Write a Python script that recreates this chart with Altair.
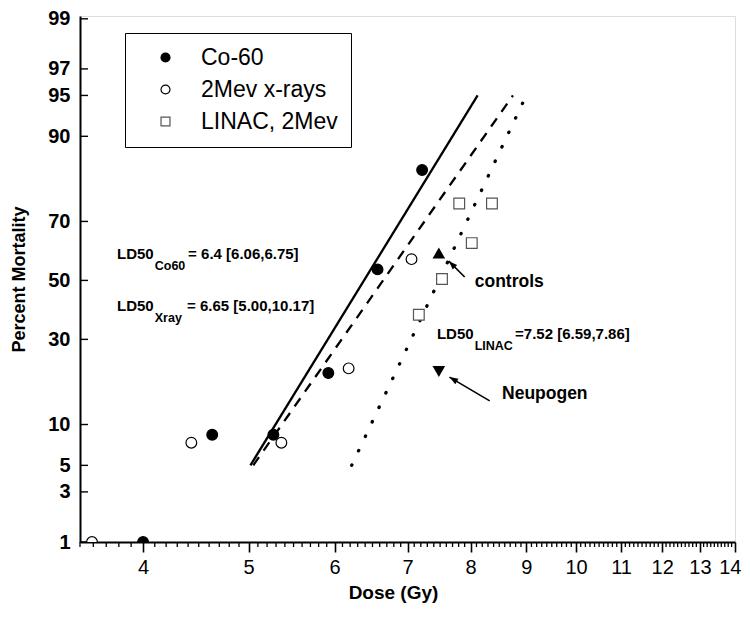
import altair as alt
import pandas as pd
from statistics import NormalDist

_nd = NormalDist()


def probit(p):
    return _nd.inv_cdf(p / 100.0)


# ---------------- data ----------------
series_names = ["Co-60", "2Mev x-rays", "LINAC, 2Mev"]

co60_dose = [4.0, 4.63, 5.27, 5.92, 6.57, 7.22]
co60_pct = [1, 8.5, 8.5, 20.5, 53.9, 83.7]

xray_dose = [3.59, 4.43, 5.36, 6.18, 7.06]
xray_pct = [1, 7.45, 7.45, 21.7, 57.5]

linac_dose = [7.17, 7.53, 7.81, 8.02, 8.37]
linac_pct = [38.0, 50.5, 75.3, 63.0, 75.3]

special_names = ["controls", "Neupogen"]
special_dose = [7.48, 7.48]
special_pct = [59.6, 20.9]
special_shape = ["triangle-up", "triangle-down"]

fit_pct = [5, 95]
fit_co60 = [5.02, 8.12]
fit_xray = [5.05, 8.75]
fit_linac = [6.22, 9.0]

y_tick_pct = [1, 3, 5, 10, 30, 50, 70, 90, 95, 97, 99]
x_major = [4, 5, 6, 7, 8, 9, 10, 11, 12, 13, 14]
x_minor = [round(3.5 + 0.1 * i, 1) for i in range(106)]

# annotation texts (anchor positions in data units)
ld_main = ["LD50", "LD50", "LD50"]
ld_sub = ["Co60", "Xray", "LINAC"]
ld_rest = ["= 6.4 [6.06,6.75]", "= 6.65 [5.00,10.17]", "=7.52 [6.59,7.86]"]
ld_dose = [3.785, 3.785, 7.45]
ld_pct = [57.5, 39.4, 30.0]
ld_sub_dose = [4.10, 4.10, 8.07]
ld_rest_dose = [4.40, 4.39, 8.79]

call_text = ["controls", "Neupogen"]
call_dose = [8.07, 8.55]
call_pct = [47.7, 14.6]

arrow_tail_dose = [7.90, 8.33]
arrow_tail_pct = [51.2, 14.2]
arrow_head_dose = [7.64, 7.65]
arrow_head_pct = [56.8, 19.5]
arrow_angle = [315, 301]

# ---------------- tables ----------------
points = pd.DataFrame({
    "series": [series_names[0]] * len(co60_dose) + [series_names[1]] * len(xray_dose)
    + [series_names[2]] * len(linac_dose),
    "dose": co60_dose + xray_dose + linac_dose,
    "pct": co60_pct + xray_pct + linac_pct,
})
points["z"] = points["pct"].map(probit)

special = pd.DataFrame({"name": special_names, "dose": special_dose, "pct": special_pct,
                        "shape": special_shape})
special["z"] = special["pct"].map(probit)


def fit_df(doses):
    d = pd.DataFrame({"dose": doses, "pct": fit_pct})
    d["z"] = d["pct"].map(probit)
    return d


ticks_y = pd.DataFrame({"pct": y_tick_pct})
ticks_y["z"] = ticks_y["pct"].map(probit)

ticks_x = pd.DataFrame({"dose": [v for v in x_minor if v not in x_major]})

ann = pd.DataFrame({"main": ld_main, "sub": ld_sub, "rest": ld_rest, "dose": ld_dose,
                    "pct": ld_pct, "sub_dose": ld_sub_dose, "rest_dose": ld_rest_dose})
ann["z"] = ann["pct"].map(probit)

calls = pd.DataFrame({"label": call_text, "dose": call_dose, "pct": call_pct})
calls["z"] = calls["pct"].map(probit)

arrows = pd.DataFrame({"dose": arrow_tail_dose, "dose2": arrow_head_dose,
                       "z": [probit(p) for p in arrow_tail_pct],
                       "z2": [probit(p) for p in arrow_head_pct],
                       "angle": arrow_angle})

FONT = "Liberation Sans"
W, H = 655, 526

x_scale = alt.Scale(type="log", domain=[3.5, 14], nice=False)
y_scale = alt.Scale(domain=[probit(1), probit(99) + 0.025], nice=False, zero=False)

x_axis = alt.Axis(
    values=x_major,
    labelExpr="format(datum.value, 'd')",
    labelOverlap=False, labelFlush=True, labelFlushOffset=6,
    tickSize=10, tickWidth=1.6, tickColor="black",
    domainColor="black", domainWidth=2,
    labelFont=FONT, labelFontSize=20, labelColor="black", labelPadding=5,
    grid=False, title="Dose (Gy)", titleFont=FONT, titleFontSize=19,
    titleFontWeight="bold", titleColor="black", titlePadding=6, titleX=313,
)
y_axis = alt.Axis(
    values=[probit(p) for p in y_tick_pct],
    labelExpr="format(cumulativeNormal(datum.value) * 100, '.0f')",
    ticks=False, grid=False, domainColor="black", domainWidth=2,
    labelFont=FONT, labelFontSize=20, labelFontWeight="bold", labelColor="black",
    labelPadding=10, labelOverlap=False,
    title="Percent Mortality", titleFont=FONT, titleFontSize=18, titleFontWeight="bold",
    titleColor="black", titlePadding=19,
)

X = alt.X("dose:Q", scale=x_scale, axis=x_axis)
Y = alt.Y("z:Q", scale=y_scale, axis=y_axis)

line_solid = alt.Chart(fit_df(fit_co60)).mark_line(color="black", strokeWidth=2.3).encode(x=X, y=Y)
line_dash = alt.Chart(fit_df(fit_xray)).mark_line(
    color="black", strokeWidth=2.3, strokeDash=[10, 8]).encode(x=X, y=Y)
line_dot = alt.Chart(fit_df(fit_linac)).mark_line(
    color="black", strokeWidth=3.3, strokeDash=[0.5, 15.5], strokeCap="round").encode(x=X, y=Y)

ytick_rules = alt.Chart(ticks_y).mark_rule(color="black", strokeWidth=1.4).encode(
    x=alt.value(0), x2=alt.value(8), y=Y)
xtick_rules = alt.Chart(ticks_x).mark_rule(color="black", strokeWidth=1.3).encode(
    x=X, y=alt.value(H), y2=alt.value(H + 5))

legend = alt.Legend(
    orient="none", legendX=45, legendY=17, title=None,
    strokeColor="black", fillColor="white", padding=13, rowPadding=8,
    labelFont=FONT, labelFontSize=23, labelColor="black", labelOffset=24,
    symbolOffset=16, symbolSize=80, symbolStrokeWidth=1.2,
)
pts = alt.Chart(points).mark_point(filled=True, size=115, strokeWidth=1.2, clip=True, opacity=1).encode(
    x=X, y=Y,
    shape=alt.Shape("series:N", sort=series_names,
                    scale=alt.Scale(domain=series_names, range=["circle", "circle", "square"]),
                    legend=legend),
    fill=alt.Fill("series:N", sort=series_names,
                  scale=alt.Scale(domain=series_names, range=["black", "white", "white"]),
                  legend=legend),
    stroke=alt.Stroke("series:N", sort=series_names,
                      scale=alt.Scale(domain=series_names, range=["black", "black", "#555555"]),
                      legend=legend),
)

tri = alt.Chart(special).mark_point(filled=True, size=160, color="black", opacity=1).encode(
    x=X, y=Y, shape=alt.Shape("shape:N", scale=None))

arrow_shaft = alt.Chart(arrows).mark_rule(color="black", strokeWidth=1.6).encode(
    x=X, y=Y, x2="dose2:Q", y2="z2:Q")
arrow_head = alt.Chart(arrows).mark_point(
    filled=True, color="black", opacity=1, size=300,
    shape="M0,0 L0.36,1 L-0.36,1 Z").encode(
    x=alt.X("dose2:Q", scale=x_scale, axis=x_axis),
    y=alt.Y("z2:Q", scale=y_scale, axis=y_axis),
    angle=alt.Angle("angle:Q", scale=None))

txt_main = alt.Chart(ann).mark_text(
    align="left", baseline="alphabetic", font=FONT, fontSize=15, fontWeight="bold",
    color="black").encode(x=X, y=Y, text="main:N")
txt_sub = alt.Chart(ann).mark_text(
    align="left", baseline="alphabetic", font=FONT, fontSize=12.5, fontWeight="bold",
    color="black", dy=11).encode(
    x=alt.X("sub_dose:Q", scale=x_scale, axis=x_axis), y=Y, text="sub:N")
txt_rest = alt.Chart(ann).mark_text(
    align="left", baseline="alphabetic", font=FONT, fontSize=15, fontWeight="bold",
    color="black").encode(
    x=alt.X("rest_dose:Q", scale=x_scale, axis=x_axis), y=Y, text="rest:N")
txt_calls = alt.Chart(calls).mark_text(
    align="left", baseline="alphabetic", font=FONT, fontSize=17.5, fontWeight="bold",
    color="black").encode(x=X, y=Y, text="label:N")

chart = alt.layer(
    line_solid, line_dash, line_dot, ytick_rules, xtick_rules, pts, tri,
    arrow_shaft, arrow_head, txt_main, txt_sub, txt_rest, txt_calls,
).properties(
    width=W, height=H,
    autosize=alt.AutoSizeParams(type="none"),
    padding={"left": 72, "top": 8, "right": 7, "bottom": 70},
).configure_view(stroke=None).configure(font=FONT)

chart.save("out.html", embed_options={"renderer": "svg", "actions": False})
